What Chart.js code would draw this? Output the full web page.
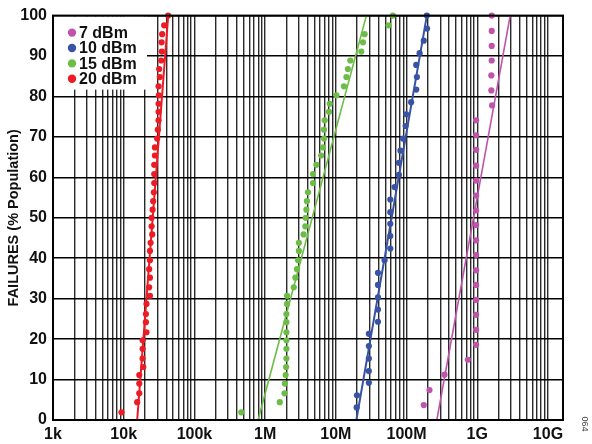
<!DOCTYPE html>
<html>
<head>
<meta charset="utf-8">
<script src="https://cdn.jsdelivr.net/npm/chart.js@4.4.1/dist/chart.umd.min.js"></script>
<style>
    html, body { margin: 0; padding: 0; background: #fff; }
    #wrap { width: 592px; height: 444px; }
</style>
</head>
<body>
<div id="wrap"><canvas id="failChart" width="592" height="444"></canvas></div>
<script>
// legend text per series
const seriesLabels = ['7 dBm', '10 dBm', '15 dBm', '20 dBm'];
const seriesColors = ['#c054ac', '#3953a4', '#6cbd45', '#ed1c24'];

// x axis decades and their labels
const xDecades = [1e3, 1e4, 1e5, 1e6, 1e7, 1e8, 1e9, 1e10];
const xTickLabels = ['1k', '10k', '100k', '1M', '10M', '100M', '1G', '10G'];
const xMin = 1e3;
const xMax = 1.63e10;

// 7 dBm (x in Hz, y in % population)
const freq7 = [1.60e9, 1.60e9, 1.60e9, 1.60e9, 1.58e9, 1.58e9, 1.62e9,
    0.964e9, 0.964e9, 0.964e9, 0.964e9, 0.964e9, 0.964e9, 0.964e9, 0.964e9,
    0.964e9, 0.964e9, 0.964e9, 0.964e9, 0.964e9, 0.964e9, 0.964e9, 0.964e9,
    0.735e9, 0.344e9, 0.211e9, 0.175e9];
const pct7 = [100, 96.2, 92.5, 88.9, 85.2, 81.5, 77.8, 74.1, 70.4, 66.8, 62.9, 59.2, 55.5,
    51.8, 48.2, 44.4, 40.8, 37.0, 33.4, 29.7, 26.0, 22.3, 18.6, 14.9, 11.2, 7.4, 3.7];

// 10 dBm
const freq10 = [193.6e6, 195e6, 175e6, 153e6, 137e6, 140e6, 137e6, 116e6, 99e6, 96.8e6,
    88.8e6, 82e6, 77.9e6, 77.9e6, 67.7e6, 58.9e6, 58.9e6, 58.9e6, 58.9e6, 58.9e6,
    48.9e6, 39.4e6, 39.4e6, 39.4e6, 39.4e6, 39.4e6, 29.3e6, 29.3e6, 29.3e6, 29.3e6,
    29.3e6, 19.9e6, 19.7e6];
const pct10 = [100, 96.8, 93.8, 90.7, 87.8, 84.8, 81.7, 78.6, 75.6, 72.7, 69.6, 66.6, 63.6,
    60.6, 57.6, 54.5, 51.4, 48.5, 45.5, 42.4, 39.5, 36.4, 33.4, 30.3, 27.3, 24.3, 21.3,
    18.3, 15.2, 12.1, 9.2, 6.1, 3.1];

// 15 dBm
const freq15 = [64e6, 55.7e6, 25.5e6, 24.2e6, 22.9e6, 16.0e6, 14.8e6, 14.1e6, 13.0e6, 10.2e6,
    8.2e6, 8.0e6, 6.95e6, 6.8e6, 6.8e6, 6.6e6, 6.2e6, 5.3e6, 4.75e6, 4.75e6,
    4.04e6, 3.9e6, 3.83e6, 3.74e6, 3.7e6, 3.5e6, 3.0e6, 3.0e6, 2.92e6, 2.82e6,
    2.68e6, 2.54e6, 2.04e6, 2.04e6, 2.0e6, 2.0e6, 2.0e6, 2.0e6, 2.0e6, 2.0e6,
    1.98e6, 1.95e6, 1.9e6, 1.88e6, 1.61e6, 0.46e6];
const pct15 = [100, 97.6, 95.4, 93.4, 91.1, 88.9, 86.8, 84.8, 82.5, 80.3, 78.2, 76.2, 74.1,
    71.8, 69.6, 67.4, 65.4, 63.1, 60.8, 58.6, 56.3, 54.1, 52.0, 50.0, 47.9, 45.9, 43.8,
    41.8, 39.5, 37.3, 35.2, 32.8, 30.7, 28.7, 26.2, 24.2, 21.7, 19.7, 17.6, 15.2, 13.1,
    11.1, 9.0, 6.6, 4.4, 1.9];

// 20 dBm
const freq20 = [42.5e3, 37.3e3, 35.0e3, 34.3e3, 34.6e3, 33.9e3, 31.7e3, 32.4e3, 31.1e3, 31.4e3,
    31.1e3, 31.1e3, 31.1e3, 30.4e3, 29.7e3, 27.6e3, 27.6e3, 27.0e3, 27.0e3, 27.0e3,
    26.7e3, 26.1e3, 25.6e3, 24.8e3, 24.8e3, 25.3e3, 24.0e3, 23.5e3, 23.5e3, 22.9e3,
    23.5e3, 22.9e3, 23.5e3, 21.0e3, 20.6e3, 20.6e3, 21.0e3, 18.5e3, 18.5e3, 18.5e3,
    18.9e3, 16.6e3, 16.6e3, 16.6e3, 15.5e3, 9.3e3];
const pct20 = [100, 97.6, 95.4, 93.4, 91.1, 88.9, 86.8, 84.8, 82.5, 80.3, 78.2, 76.2, 74.1,
    71.8, 69.6, 67.4, 65.4, 63.1, 60.8, 58.6, 56.3, 54.1, 52.0, 50.0, 47.9, 45.9, 43.8,
    41.8, 39.5, 37.3, 35.2, 32.8, 30.7, 28.7, 26.2, 24.2, 21.7, 19.7, 17.6, 15.2, 13.1,
    11.1, 9.0, 6.6, 4.4, 1.9];

// fitted lines: [x at 0 %, x at 100 %]
const fitPct = [0, 100];
const fit7 = [268e6, 2.92e9];
const fit10 = [19.5e6, 193.6e6];
const fit15 = [0.794e6, 27.0e6];
const fit20 = [15.5e3, 42.6e3];

const yTicks = [0, 10, 20, 30, 40, 50, 60, 70, 80, 90, 100];

document.addEventListener('DOMContentLoaded', () => {
    renderChart();
});

function toPoints(xs, ys) {
    return xs.map((x, i) => ({ x: x, y: ys[i] }));
}

function scatterSet(label, xs, ys, color) {
    return {
        type: 'scatter',
        label: label,
        data: toPoints(xs, ys),
        backgroundColor: color,
        borderWidth: 0,
        pointRadius: 3.1,
        clip: false
    };
}

function fitSet(xs, color, width) {
    return {
        type: 'line',
        label: '',
        data: toPoints(xs, fitPct),
        borderColor: color,
        borderWidth: width,
        pointRadius: 0,
        fill: false,
        tension: 0
    };
}

// legend box inside the plot, frame and figure code
const overlayPlugin = {
    id: 'overlay',
    afterDraw(chart) {
        const ctx = chart.ctx;
        const area = chart.chartArea;
        ctx.save();

        ctx.fillStyle = '#fff';
        ctx.fillRect(area.left + 1, area.top + 1, 93, 73);
        ctx.font = 'bold 16px "Liberation Sans", Arial, sans-serif';
        ctx.textBaseline = 'middle';
        seriesLabels.forEach((label, i) => {
            const y = area.top + 17 + i * 15.4;
            ctx.fillStyle = seriesColors[i];
            ctx.beginPath();
            ctx.arc(area.left + 19, y, 4.2, 0, Math.PI * 2);
            ctx.fill();
            ctx.fillStyle = '#111';
            ctx.fillText(label, area.left + 26, y + 1);
        });

        ctx.strokeStyle = '#000';
        ctx.lineWidth = 2;
        ctx.strokeRect(area.left, area.top, area.right - area.left, area.bottom - area.top);

        ctx.translate(584, 424);
        ctx.rotate(Math.PI / 2);
        ctx.fillStyle = '#444';
        ctx.font = '9px "Liberation Sans", Arial, sans-serif';
        ctx.textAlign = 'center';
        ctx.fillText('064', 0, 0);
        ctx.restore();
    }
};

function renderChart() {
    const ctx = document.getElementById('failChart').getContext('2d');
    const tickFont = { family: '"Liberation Sans", Arial, sans-serif', size: 16, weight: 'bold' };

    new Chart(ctx, {
        data: {
            datasets: [
                fitSet(fit7, seriesColors[0], 1.6),
                fitSet(fit10, seriesColors[1], 2),
                fitSet(fit15, seriesColors[2], 1.6),
                fitSet(fit20, seriesColors[3], 2),
                scatterSet(seriesLabels[0], freq7, pct7, seriesColors[0]),
                scatterSet(seriesLabels[1], freq10, pct10, seriesColors[1]),
                scatterSet(seriesLabels[2], freq15, pct15, seriesColors[2]),
                scatterSet(seriesLabels[3], freq20, pct20, seriesColors[3])
            ]
        },
        options: {
            responsive: false,
            animation: false,
            layout: { padding: { left: 0, top: 13, right: 29, bottom: 0 } },
            plugins: {
                legend: { display: false },
                tooltip: { enabled: false }
            },
            scales: {
                x: {
                    type: 'logarithmic',
                    min: xMin,
                    max: xMax,
                    afterBuildTicks: (scale) => {
                        const ticks = [];
                        xDecades.forEach(d => {
                            for (let m = 1; m <= 9; m++) {
                                if (d * m <= xMax) ticks.push({ value: d * m });
                            }
                        });
                        scale.ticks = ticks;
                    },
                    afterFit: (scale) => { scale.height = 24; },
                    ticks: {
                        autoSkip: false,
                        maxRotation: 0,
                        padding: 5,
                        color: '#111',
                        font: tickFont,
                        callback: (value) => {
                            const i = xDecades.indexOf(value);
                            return i >= 0 ? xTickLabels[i] : '';
                        }
                    },
                    grid: { color: '#2a2a2a', lineWidth: 1.4, drawTicks: false },
                    border: { display: false }
                },
                y: {
                    type: 'linear',
                    min: 0,
                    max: 100,
                    afterBuildTicks: (scale) => {
                        scale.ticks = yTicks.map(v => ({ value: v }));
                    },
                    afterFit: (scale) => { scale.width = 53; },
                    ticks: { padding: 6, color: '#111', font: tickFont },
                    grid: { color: '#000', lineWidth: 1.5, drawTicks: false },
                    border: { display: false },
                    title: {
                        display: true,
                        text: 'FAILURES (% Population)',
                        color: '#111',
                        padding: { top: 5, bottom: 0 },
                        font: { family: '"Liberation Sans", Arial, sans-serif', size: 14.5, weight: 'bold' }
                    }
                }
            }
        },
        plugins: [overlayPlugin]
    });
}
</script>
</body>
</html>
